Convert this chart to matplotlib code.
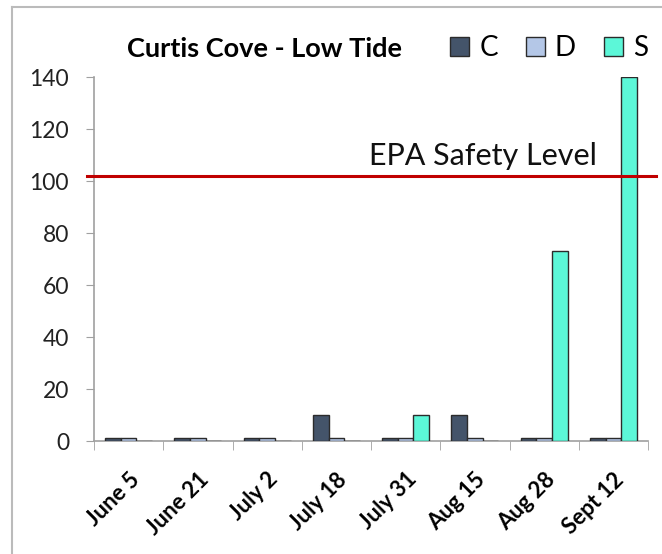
import numpy as np
import matplotlib
matplotlib.use("Agg")
import matplotlib.pyplot as plt
from matplotlib.lines import Line2D

dates = ["June 5", "June 21", "July 2", "July 18", "July 31", "Aug 15", "Aug 28", "Sept 12"]
c_vals = [1, 1, 1, 10, 1, 10, 1, 1]
d_vals = [1, 1, 1, 1, 1, 1, 1, 1]
s_vals = [0, 0, 0, 0, 10, 0, 73, 140]
epa_level = 102

series = ["C", "D", "S"]
colors = ["#44546A", "#B4C7E7", "#5CF7D8"]

plt.rcParams["font.family"] = ["Lato", "DejaVu Sans"]

fig = plt.figure(figsize=(6.62, 5.54), dpi=100)
ax = fig.add_axes([94 / 662, 1 - 441 / 554, 554 / 662, 364 / 554])

x = np.arange(len(dates))
w = 0.227
for k, (vals, col, name) in enumerate(zip([c_vals, d_vals, s_vals], colors, series)):
    ax.bar(x + (k - 1) * w, vals, width=w, color=col, edgecolor="#2B2B2B",
           linewidth=1.0, label=name, zorder=3)

ax.set_xlim(-0.5, len(dates) - 0.5)
ax.set_ylim(0, 140)
ax.set_yticks(np.arange(0, 141, 20))
ax.tick_params(axis="y", labelsize=16.5, length=6, color="#A0A0A0", pad=12,
               labelcolor="#222222")

ax.set_xticks(x)
ax.set_xticklabels(dates, rotation=45, ha="right", rotation_mode="anchor",
                   fontsize=16, fontweight="bold")
ax.tick_params(axis="x", which="major", length=0, pad=20)
ax.set_xticks(np.arange(-0.5, len(dates), 1), minor=True)
ax.tick_params(axis="x", which="minor", length=6.5, color="#A0A0A0")

for side in ["top", "right"]:
    ax.spines[side].set_visible(False)
for side in ["left", "bottom"]:
    ax.spines[side].set_color("#A0A0A0")
    ax.spines[side].set_linewidth(1.2)

# EPA line, runs a little past the axes on both sides
ax.axhline(epa_level, xmin=-0.012, xmax=1.014, color="#C00000", linewidth=2.2,
           clip_on=False, zorder=4)
ax.text(0.908, epa_level + 4, "EPA Safety Level", transform=ax.get_yaxis_transform(),
        ha="right", va="baseline", fontsize=22, color="#111111")

fig.text(127 / 662, 1 - 57 / 554, "Curtis Cove - Low Tide", ha="left", va="baseline",
         fontsize=19.5, fontweight="bold")

handles, labels = ax.get_legend_handles_labels()
fig.legend(handles, labels, loc="center left", bbox_to_anchor=(450 / 662, 1 - 48 / 554),
           ncol=3, frameon=False, fontsize=20, handlelength=0.7, handleheight=0.7,
           handletextpad=0.35, columnspacing=1.0, borderaxespad=0, borderpad=0)

# outer frame of the chart area
fig.add_artist(Line2D([12 / 662, 12 / 662], [0, 1 - 7 / 554], color="#BBBBBB", lw=1.5))
fig.add_artist(Line2D([12 / 662, 1], [1 - 7 / 554, 1 - 7 / 554], color="#BBBBBB", lw=1.5))

fig.savefig("out.png", dpi=100)
